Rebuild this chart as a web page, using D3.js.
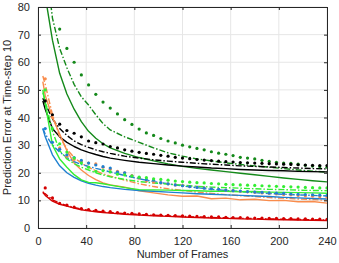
<!DOCTYPE html>
<html>
<head>
<meta charset="utf-8">
<script src="https://cdn.jsdelivr.net/npm/d3@7"></script>
<style>
  body { margin: 0; background: #fff; }
  svg { font-family: "Liberation Sans", Arial, sans-serif; }
</style>
</head>
<body>
<svg id="chart"></svg>
<script>
// x positions (frames)
const lineX = [4, 6, 12, 18, 24, 30, 36, 42, 48, 54, 60, 72, 84, 96, 108, 120, 132, 144, 156, 168, 180, 192, 204, 216, 228, 240];
const dotX = d3.range(6, 241, 6);

const xTicks = [0, 40, 80, 120, 160, 200, 240];
const yTicks = [0, 10, 20, 30, 40, 50, 60, 70, 80];

// solid / dash-dot series (on lineX)
const darkGreenSolid = [95, 84, 68, 56, 48.5, 43, 38.5, 35, 32.5, 30.5, 29, 27, 25.5, 24.3, 23.2, 22.3, 21.6, 21, 20.4, 19.8, 19.3, 18.7, 18.1, 17.6, 17.1, 16.7];
const darkGreenDashDot = [110, 98, 76, 65, 58, 52, 47.5, 44.5, 41, 37.8, 35.5, 33, 31, 29, 27.2, 26, 25, 24.3, 23.6, 23, 22.5, 22, 21.5, 21, 20.6, 20.2];
const blackSolid = [46, 43, 36, 33, 31, 29.5, 28.3, 27.4, 26.6, 25.9, 25.3, 24.5, 23.8, 23.3, 22.8, 22.4, 22.1, 21.7, 21.5, 21.2, 21, 20.8, 20.7, 20.5, 20.4, 20.3];
const blackDashDot = [47, 45, 39.5, 36, 33.5, 31.5, 30.2, 29.2, 28.3, 27.6, 27, 26, 25.3, 24.7, 24.2, 23.8, 23.4, 23.1, 22.8, 22.5, 22.3, 22.1, 21.9, 21.7, 21.5, 21.4];
const orangeSolid = [53, 48, 40, 34, 28, 23.5, 21, 19, 17.5, 16.3, 15.6, 14.8, 13.5, 12.7, 12, 11.5, 11.6, 10.6, 10.8, 10.2, 10.4, 9.9, 10, 9.5, 9.6, 9];
const orangeDashDot = [55, 52, 41, 33, 28.5, 25.5, 23.5, 22, 20.7, 19.6, 18.8, 17.3, 16, 15, 14.2, 13.6, 13, 12.5, 12.1, 11.7, 11.4, 11, 10.8, 10.5, 10.3, 10];
const blueSolid = [36, 33, 26.5, 22.5, 20, 18.3, 17.1, 16.2, 15.5, 15, 14.6, 14, 13.6, 13.3, 13, 12.7, 12.4, 12.2, 12, 11.8, 11.6, 11.4, 11.1, 10.9, 10.7, 10.5];
const blueDashDot = [36, 34, 30, 27.5, 25.5, 24, 23, 22.3, 21.6, 21, 20.3, 19, 17.8, 16.8, 16, 15.2, 14.6, 14, 13.6, 13.2, 12.8, 12.5, 12.2, 12, 11.8, 11.6];
const limeSolid = [50, 45, 30, 25, 22, 19.3, 17.4, 16.5, 16.4, 16, 15.5, 14.6, 13.9, 13.8, 13.7, 13.6, 13.5, 13.3, 13.3, 13.1, 13.2, 13, 12.9, 12.8, 12.7, 12.6];
const limeDashDot = [49, 46, 35, 28, 25, 23.3, 22, 21, 20, 19.2, 18.5, 17.6, 16.8, 16.3, 15.9, 15.5, 15.1, 14.8, 14.6, 14.4, 14.2, 14, 13.9, 13.7, 13.6, 13.5];
const redSolid = [13.2, 11.8, 9.7, 8.6, 7.9, 7.2, 6.6, 6.2, 5.9, 5.6, 5.4, 5, 4.7, 4.4, 4.2, 4, 3.8, 3.6, 3.5, 3.3, 3.2, 3.1, 3, 2.9, 2.8, 2.7];
const redDashDot = [12.6, 12.4, 10.2, 9, 8.1, 7.4, 6.9, 6.4, 6.1, 5.8, 5.6, 5.2, 4.9, 4.6, 4.4, 4.2, 4, 3.8, 3.7, 3.5, 3.4, 3.3, 3.2, 3.1, 3, 2.9];

// dotted series (on dotX)
const darkGreenDotted = [105, 84, 72, 65, 60, 55.4, 51.8, 48.4, 45.6, 43.4, 41.3, 39.2, 37.5, 35.8, 34.4, 33.5, 32.4, 31.5, 30.8, 30, 29.4, 28.8, 28.3, 27.6, 27.1, 26.7, 26.2, 25.6, 25.3, 25, 24.5, 24.1, 23.8, 23.5, 23.4, 23.1, 22.7, 22.4, 22.2, 22];
const blackDotted = [46, 41, 37.6, 35.3, 34.3, 33, 31.5, 30.9, 30.4, 29.5, 29, 28.3, 27.8, 27.4, 27, 26.7, 26.3, 26, 25.6, 25.3, 25.1, 24.8, 24.6, 24.4, 24.2, 24, 23.9, 23.7, 23.6, 23.5, 23.4, 23.3, 23.2, 23.1, 23, 22.9, 22.8, 22.7, 22.6, 22.6];
const orangeDotted = [54, 40, 29, 26, 24.8, 24, 23.5, 23.2, 22, 21.3, 20.5, 20, 19, 18, 17, 16.6, 16.3, 16, 15.6, 15.4, 15, 14.8, 14.5, 14.2, 14, 13.7, 13.5, 13.3, 13.1, 12.9, 12.7, 12.5, 12.3, 12.1, 12, 11.8, 11.6, 11.5, 11.3, 11.2];
const blueDotted = [36, 31, 28.5, 26.5, 25.5, 24.5, 23.5, 22.8, 22.2, 21.7, 20.2, 20, 18.8, 18.2, 17.5, 17.3, 16.4, 16, 15.6, 15.3, 15, 14.7, 14.4, 14.2, 14, 13.7, 13.5, 13.4, 13.2, 13, 12.9, 12.7, 12.6, 12.5, 12.3, 12.2, 12.1, 12, 11.9, 11.8];
const limeDotted = [50, 36, 30.5, 27.5, 25.3, 23.5, 22, 20.5, 20.8, 20.3, 19.5, 19.2, 18.8, 18.4, 18.2, 17.8, 17.6, 17.3, 17, 16.8, 16.6, 16.4, 16.3, 16.1, 16, 15.8, 15.7, 15.6, 15.5, 15.4, 15.3, 15.2, 15.1, 15, 14.9, 14.8, 14.7, 14.6, 14.5, 14.5];
const redDotted = [14.5, 10.9, 8.9, 8.3, 7.6, 7, 6.7, 6.4, 6.1, 5.9, 5.6, 5.4, 5.3, 5.1, 4.9, 4.8, 4.7, 4.6, 4.5, 4.4, 4.3, 4.2, 4.1, 4, 4, 3.9, 3.8, 3.8, 3.7, 3.6, 3.6, 3.5, 3.5, 3.4, 3.4, 3.3, 3.3, 3.2, 3.2, 3.1];

const colors = {
  darkGreen: "#14891a",
  black: "#000000",
  orange: "#f98c4c",
  blue: "#1f80d0",
  lime: "#33ee33",
  red: "#d40000",
};

const lineSeries = [
  { values: darkGreenSolid, color: colors.darkGreen, dash: null },
  { values: darkGreenDashDot, color: colors.darkGreen, dash: "6,2,1.5,2" },
  { values: blackSolid, color: colors.black, dash: null },
  { values: blackDashDot, color: colors.black, dash: "6,2,1.5,2" },
  { values: orangeSolid, color: colors.orange, dash: null },
  { values: orangeDashDot, color: colors.orange, dash: "6,2,1.5,2" },
  { values: blueSolid, color: colors.blue, dash: null },
  { values: blueDashDot, color: colors.blue, dash: "6,2,1.5,2" },
  { values: limeSolid, color: colors.lime, dash: null },
  { values: limeDashDot, color: colors.lime, dash: "6,2,1.5,2" },
  { values: redSolid, color: colors.red, dash: null },
  { values: redDashDot, color: colors.red, dash: "6,2,1.5,2" },
];

const dotSeries = [
  { values: darkGreenDotted, color: colors.darkGreen },
  { values: blackDotted, color: colors.black },
  { values: orangeDotted, color: colors.orange },
  { values: blueDotted, color: colors.blue },
  { values: limeDotted, color: colors.lime },
  { values: redDotted, color: colors.red },
];

const svgWidth = 339;
const svgHeight = 263;
const margin = { top: 7, right: 12, bottom: 35, left: 38 };
const width = svgWidth - margin.left - margin.right;
const height = svgHeight - margin.top - margin.bottom;

const svg = d3.select("#chart").attr("width", svgWidth).attr("height", svgHeight);

const xScale = d3.scaleLinear().domain([0, 240]).range([0, width]);
const yScale = d3.scaleLinear().domain([0, 80]).range([height, 0]);

const g = svg.append("g").attr("transform", "translate(" + margin.left + "," + margin.top + ")");

// grid
g.append("g")
  .selectAll("line")
  .data(xTicks)
  .enter()
  .append("line")
  .attr("x1", (d) => xScale(d))
  .attr("x2", (d) => xScale(d))
  .attr("y1", 0)
  .attr("y2", height)
  .attr("stroke", "#e6e6e6")
  .attr("stroke-width", 1);
g.append("g")
  .selectAll("line")
  .data(yTicks)
  .enter()
  .append("line")
  .attr("x1", 0)
  .attr("x2", width)
  .attr("y1", (d) => yScale(d))
  .attr("y2", (d) => yScale(d))
  .attr("stroke", "#e6e6e6")
  .attr("stroke-width", 1);

// clip
g.append("defs")
  .append("clipPath")
  .attr("id", "clip")
  .append("rect")
  .attr("width", width)
  .attr("height", height);

const content = g.append("g").attr("clip-path", "url(#clip)");

const line = d3
  .line()
  .x((d, i) => xScale(lineX[i]))
  .y((d) => yScale(d));

lineSeries.forEach((s) => {
  content
    .append("path")
    .datum(s.values)
    .attr("fill", "none")
    .attr("stroke", s.color)
    .attr("stroke-width", 1.4)
    .attr("stroke-linejoin", "round")
    .attr("stroke-dasharray", s.dash)
    .attr("d", line);
});

dotSeries.forEach((s) => {
  content
    .append("g")
    .selectAll("circle")
    .data(s.values)
    .enter()
    .append("circle")
    .attr("cx", (d, i) => xScale(dotX[i]))
    .attr("cy", (d) => yScale(d))
    .attr("r", 1.6)
    .attr("fill", s.color);
});

// axes (ticks inside, box around)
const axisColor = "#262626";
const xAxis = g
  .append("g")
  .attr("transform", "translate(0," + height + ")")
  .call(d3.axisBottom(xScale).tickValues(xTicks).tickSizeInner(-3).tickSizeOuter(0).tickPadding(9));
const yAxis = g
  .append("g")
  .call(d3.axisLeft(yScale).tickValues(yTicks).tickSizeInner(-3).tickSizeOuter(0).tickPadding(8));
const xTop = g
  .append("g")
  .call(d3.axisTop(xScale).tickValues(xTicks).tickSizeInner(-3).tickSizeOuter(0).tickFormat(""));
const yRight = g
  .append("g")
  .attr("transform", "translate(" + width + ",0)")
  .call(d3.axisRight(yScale).tickValues(yTicks).tickSizeInner(-3).tickSizeOuter(0).tickFormat(""));

[xAxis, yAxis, xTop, yRight].forEach((a) => {
  a.select(".domain").attr("stroke", axisColor);
  a.selectAll(".tick line").attr("stroke", axisColor);
  a.selectAll("text").attr("fill", axisColor).style("font-size", "11px");
});

// labels
svg
  .append("text")
  .attr("x", margin.left + width / 2)
  .attr("y", 258)
  .attr("text-anchor", "middle")
  .attr("fill", axisColor)
  .style("font-size", "11px")
  .text("Number of Frames");

svg
  .append("text")
  .attr("transform", "translate(11," + (margin.top + height / 2) + ") rotate(-90)")
  .attr("text-anchor", "middle")
  .attr("fill", axisColor)
  .style("font-size", "11px")
  .text("Prediction Error at Time-step 10");
</script>
</body>
</html>
